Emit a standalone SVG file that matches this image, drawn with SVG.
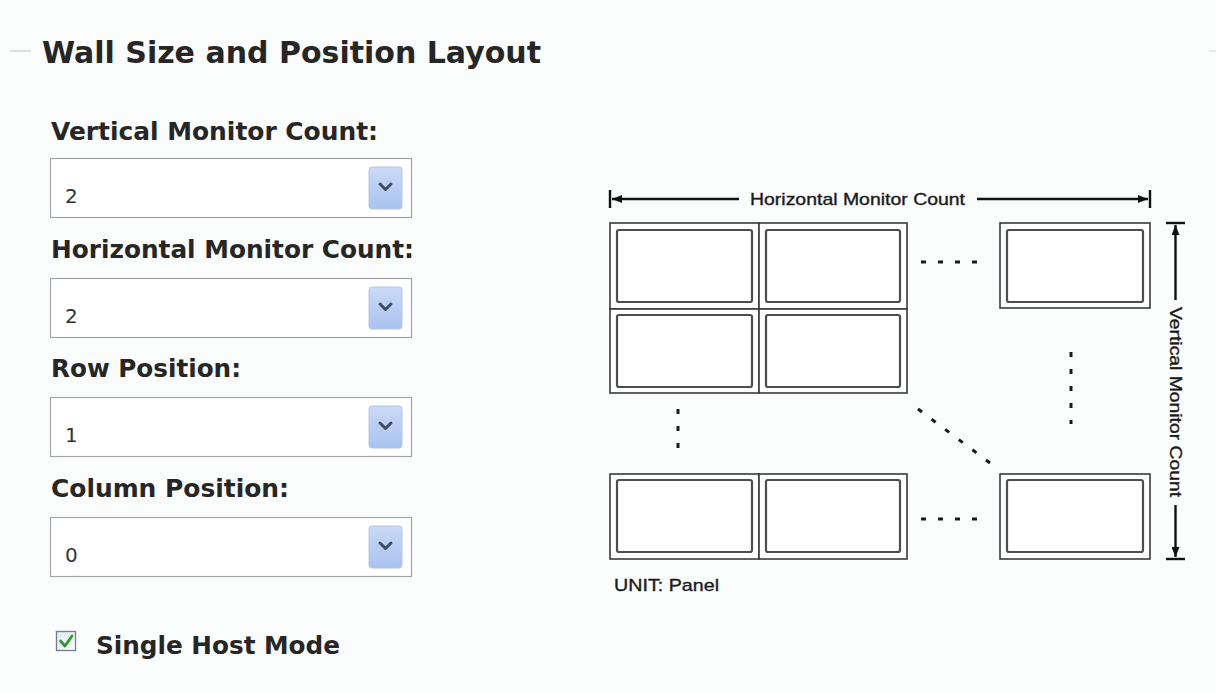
<svg xmlns="http://www.w3.org/2000/svg" width="1216" height="693" viewBox="0 0 1216 693">
  <style>
    .lbl { font-family: "DejaVu Sans", Verdana, sans-serif; font-weight: bold; fill: #262626; }
    .val { font-family: "DejaVu Sans", Verdana, sans-serif; font-size: 20px; fill: #333; }
    .box { fill: #ffffff; stroke: #a3a3a3; stroke-width: 1.2; }
    .btn { fill: url(#btnGrad); stroke: #b4c6e8; stroke-width: 1; }
    .chev { fill: none; stroke: #3e4c66; stroke-width: 3; stroke-linecap: round; stroke-linejoin: round; }
    .outer { fill: #fff; stroke: #3a3a3a; stroke-width: 1.6; }
    .inner { fill: #fff; stroke: #4d4d4d; stroke-width: 2.2; }
    .dim { stroke: #111; stroke-width: 2.4; fill: none; }
    .tick { stroke: #111; stroke-width: 2.4; }
    .dots { stroke: #1a1a1a; stroke-width: 3; stroke-dasharray: 5 12; fill: none; }
    .dtxt { font-family: "Liberation Sans", Arial, sans-serif; font-size: 17px; fill: #1a1a1a; stroke: #1a1a1a; stroke-width: 0.35; }
  </style>
  <defs>
    <linearGradient id="btnGrad" x1="0" y1="0" x2="0" y2="1">
      <stop offset="0" stop-color="#cbdaf6"/>
      <stop offset="1" stop-color="#a9c2f0"/>
    </linearGradient>
    <linearGradient id="chkGrad" x1="0" y1="0" x2="1" y2="1">
      <stop offset="0" stop-color="#dfe6ee"/>
      <stop offset="1" stop-color="#ffffff"/>
    </linearGradient>
    <marker id="arr" viewBox="0 0 10 8" refX="10" refY="4" markerWidth="10" markerHeight="8" markerUnits="userSpaceOnUse" orient="auto">
      <path d="M0,0 L10,4 L0,8 Z" fill="#111"/>
    </marker>
  </defs>

  <rect x="0" y="0" width="1216" height="693" fill="#fbfcfc"/>

  <!-- fieldset legend -->
  <line x1="10" y1="51" x2="31" y2="51" stroke="#c8c8c8" stroke-width="1.2"/>
  <line x1="1209" y1="51" x2="1216" y2="51" stroke="#dcdcdc" stroke-width="1.2"/>
  <text class="lbl" x="42" y="63" font-size="30" textLength="499" lengthAdjust="spacingAndGlyphs">Wall Size and Position Layout</text>

  <!-- form fields -->
  <g id="field-vertical">
    <text class="lbl" x="51" y="140" font-size="24" textLength="327" lengthAdjust="spacingAndGlyphs">Vertical Monitor Count:</text>
    <rect class="box" x="50.5" y="158.5" width="361" height="59"/>
    <text class="val" x="65" y="203">2</text>
    <rect class="btn" x="369" y="167" width="33" height="42" rx="3"/>
    <polyline class="chev" points="380,184 385.5,189.5 391,184"/>
  </g>
  <g id="field-horizontal">
    <text class="lbl" x="51" y="258" font-size="24" textLength="363" lengthAdjust="spacingAndGlyphs">Horizontal Monitor Count:</text>
    <rect class="box" x="50.5" y="278.5" width="361" height="59"/>
    <text class="val" x="65" y="323">2</text>
    <rect class="btn" x="369" y="287" width="33" height="42" rx="3"/>
    <polyline class="chev" points="380,304 385.5,309.5 391,304"/>
  </g>
  <g id="field-row">
    <text class="lbl" x="51" y="377" font-size="24" textLength="190" lengthAdjust="spacingAndGlyphs">Row Position:</text>
    <rect class="box" x="50.5" y="397.5" width="361" height="59"/>
    <text class="val" x="65" y="442">1</text>
    <rect class="btn" x="369" y="406" width="33" height="42" rx="3"/>
    <polyline class="chev" points="380,423 385.5,428.5 391,423"/>
  </g>
  <g id="field-column">
    <text class="lbl" x="51" y="497" font-size="24" textLength="238" lengthAdjust="spacingAndGlyphs">Column Position:</text>
    <rect class="box" x="50.5" y="517.5" width="361" height="59"/>
    <text class="val" x="65" y="562">0</text>
    <rect class="btn" x="369" y="526" width="33" height="42" rx="3"/>
    <polyline class="chev" points="380,543 385.5,548.5 391,543"/>
  </g>
  <g id="field-single-host">
    <rect x="56.5" y="631.5" width="19" height="19" fill="url(#chkGrad)" stroke="#6f7f95" stroke-width="1.3"/>
    <polyline points="60.5,641 65,646 72,636" fill="none" stroke="#2f9a2f" stroke-width="2.8" stroke-linecap="round" stroke-linejoin="round"/>
    <text class="lbl" x="96" y="654" font-size="24" textLength="244" lengthAdjust="spacingAndGlyphs">Single Host Mode</text>
  </g>

  <!-- wall panels -->
  <g id="panel-r1c1"><rect class="outer" x="610" y="223" width="149" height="86"/><rect class="inner" x="617" y="230" width="135" height="72" rx="2"/></g>
  <g id="panel-r1c2"><rect class="outer" x="759" y="223" width="148" height="86"/><rect class="inner" x="766" y="230" width="134" height="72" rx="2"/></g>
  <g id="panel-r2c1"><rect class="outer" x="610" y="309" width="149" height="84"/><rect class="inner" x="617" y="315" width="135" height="72" rx="2"/></g>
  <g id="panel-r2c2"><rect class="outer" x="759" y="309" width="148" height="84"/><rect class="inner" x="766" y="315" width="134" height="72" rx="2"/></g>
  <g id="panel-r1cn"><rect class="outer" x="1000" y="223" width="150" height="85"/><rect class="inner" x="1007" y="230" width="136" height="72" rx="2"/></g>
  <g id="panel-rnc1"><rect class="outer" x="610" y="474" width="149" height="85"/><rect class="inner" x="617" y="480" width="135" height="72" rx="2"/></g>
  <g id="panel-rnc2"><rect class="outer" x="759" y="474" width="148" height="85"/><rect class="inner" x="766" y="480" width="134" height="72" rx="2"/></g>
  <g id="panel-rncn"><rect class="outer" x="1000" y="474" width="150" height="85"/><rect class="inner" x="1007" y="480" width="136" height="72" rx="2"/></g>

  <!-- continuation dots and dimension lines -->
  <g id="connectors">
    <line class="dots" x1="921" y1="262" x2="978" y2="262"/>
    <line class="dots" x1="921" y1="519" x2="978" y2="519"/>
    <line class="dots" x1="678" y1="409" x2="678" y2="448"/>
    <line class="dots" x1="1071" y1="352" x2="1071" y2="424"/>
    <line class="dots" x1="918" y1="409" x2="990" y2="463"/>

    <line class="tick" x1="610" y1="190" x2="610" y2="208"/>
    <line class="tick" x1="1150" y1="190" x2="1150" y2="208"/>
    <line class="dim" x1="739" y1="199" x2="612" y2="199" marker-end="url(#arr)"/>
    <line class="dim" x1="977" y1="199" x2="1148" y2="199" marker-end="url(#arr)"/>
    <text class="dtxt" x="750" y="205" textLength="215" lengthAdjust="spacingAndGlyphs">Horizontal Monitor Count</text>

    <line class="tick" x1="1166" y1="223" x2="1185" y2="223"/>
    <line class="tick" x1="1166" y1="559" x2="1185" y2="559"/>
    <line class="dim" x1="1175.5" y1="300" x2="1175.5" y2="225" marker-end="url(#arr)"/>
    <line class="dim" x1="1175.5" y1="505" x2="1175.5" y2="557" marker-end="url(#arr)"/>
    <text class="dtxt" transform="translate(1170,307) rotate(90)" x="0" y="0" textLength="190" lengthAdjust="spacingAndGlyphs">Vertical Monitor Count</text>
  </g>

  <text class="dtxt" x="614" y="591" font-size="16" textLength="105" lengthAdjust="spacingAndGlyphs">UNIT: Panel</text>
</svg>
